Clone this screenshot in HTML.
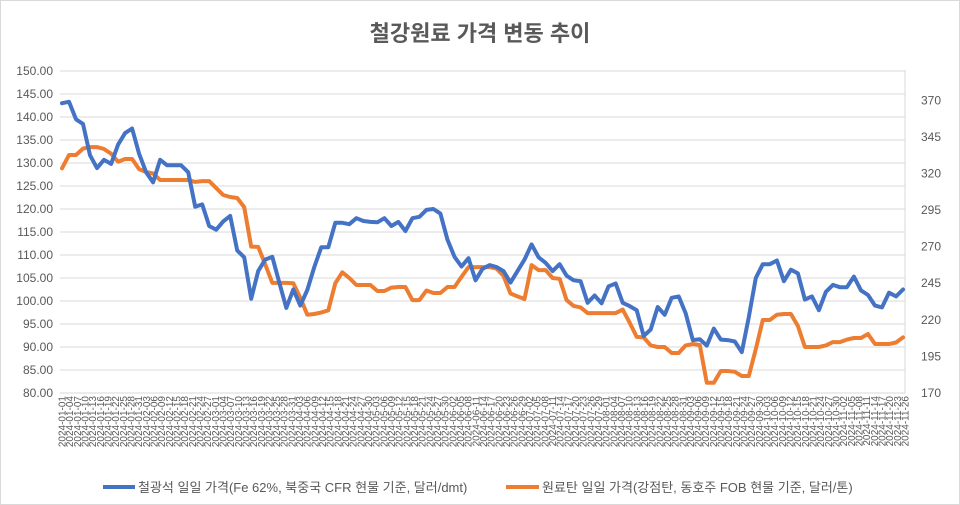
<!DOCTYPE html>
<html><head><meta charset="utf-8"><style>
html,body{margin:0;padding:0;background:#fff;}
svg{display:block;font-family:"Liberation Sans","Noto Sans CJK KR",sans-serif;}
</style></head><body>
<svg id="chart" width="960" height="505" viewBox="0 0 960 505">
<rect x="0.5" y="0.5" width="959" height="504" fill="#fff" stroke="#d9d9d9"/>
<text x="480" y="41" text-anchor="middle" font-size="22" font-weight="bold" fill="#595959">철강원료 가격 변동 추이</text>
<g id="grid"></g>
<g id="yl"></g>
<g id="yr"></g>
<g id="xl"></g>
<g id="series"></g>
<g>
 <g>
  <line x1="103" y1="487" x2="135" y2="487" stroke="#4472c4" stroke-width="4"/>
  <text x="138" y="492" font-size="13" fill="#595959">철광석 일일 가격(Fe 62%, 북중국 CFR 현물 기준, 달러/dmt)</text>
 </g>
 <g>
  <line x1="506" y1="487" x2="539" y2="487" stroke="#ed7d31" stroke-width="4"/>
  <text x="542" y="492" font-size="13" fill="#595959">원료탄 일일 가격(강점탄, 동호주 FOB 현물 기준, 달러/톤)</text>
 </g>
</g>
</svg>
<script>
const leftTicks=[80,85,90,95,100,105,110,115,120,125,130,135,140,145,150];
const rightTicks=[170,195,220,245,270,295,320,345,370];
const ironOre=[143,143.3,139.5,138.5,131.7,128.9,130.7,129.8,134,136.5,137.5,132,128,125.8,130.7,129.5,129.5,129.5,128,120.5,121,116.3,115.5,117.3,118.5,111,109.5,100.5,106.5,109,109.6,104,98.5,102.5,99,102.4,107.4,111.7,111.7,117,117,116.7,118,117.4,117.2,117.1,118,116.3,117.2,115.2,118,118.3,119.8,120,119,113.3,109.6,107.5,109.3,104.5,107,107.8,107.4,106.5,104,106.5,109,112.3,109.5,108.3,106.5,108,105.5,104.5,104.3,99.6,101.2,99.5,103.2,103.8,99.6,98.9,98,92.4,93.8,98.7,97,100.7,101,97.3,91.5,91.7,90.3,94,91.6,91.5,91.2,88.9,96.5,105,108,108,108.8,104.3,106.8,106,100.3,101,98,102,103.5,103,103,105.3,102.3,101.3,99,98.6,101.8,101,102.5];
const cokingCoal=[323.5,332.6,332.6,337,338,338,336.7,333.5,328,329.9,329.9,323,321,320,315.5,315.5,315.5,315.5,315.5,314.2,314.8,314.8,310,305.3,303.9,303.2,297,270,269.8,258,245.2,245.2,245.2,245,235,223.5,224,225,226.5,245,252.5,248.6,243.8,243.8,243.8,239.7,239.7,242,242.4,242.4,233.5,233.5,240,238.3,238.3,242.4,242.4,249.3,256,256,256,256,255,250,238,236,234.2,257.4,254,254,248.6,248,233.5,229.5,228.5,224.6,224.6,224.6,224.6,224.6,227,218,208.3,208,202.5,201.4,201.4,197.3,197.3,202.5,203.5,202.8,177,177,185,185,184.5,181.6,181.6,200,219.9,219.9,223.5,224,224,215.8,201.4,201.4,201.4,202.5,204.8,204.8,206.5,207.6,207.6,210.3,203.5,203.5,203.5,204.5,208];
const startDate='2024-01-01';
const totalDays=330;
const labelStepDays=3;

const NS='http://www.w3.org/2000/svg';
const X0=62,X1=905,YT=71,YB=393;
const yL=v=>YB-(v-80)/(150-80)*(YB-YT);
const yR=v=>YB-(v-170)/(390-170)*(YB-YT);
const xI=(i,n)=>X0+i*(X1-2-X0)/(n-1);
const xD=d=>X0+d*(X1-X0)/totalDays;
function mk(tag,attrs,parent){const e=document.createElementNS(NS,tag);for(const k in attrs)e.setAttribute(k,attrs[k]);parent.appendChild(e);return e;}
const grid=document.getElementById('grid'),yl=document.getElementById('yl'),yr=document.getElementById('yr'),xl=document.getElementById('xl'),ser=document.getElementById('series');
leftTicks.forEach(v=>{
 const l=mk('line',{x1:60,x2:X1,y1:yL(v),y2:yL(v),stroke:'#d9d9d9','stroke-width':1},grid);
 
 
 const t=mk('text',{x:53,y:yL(v)+4,'text-anchor':'end','font-size':12,fill:'#595959'},yl);
 t.textContent=v.toFixed(2);
 
 
});
const ax=mk('line',{x1:X1,x2:X1,y1:YT-1,y2:YB,stroke:'#d9d9d9','stroke-width':1},yr);


rightTicks.forEach(v=>{
 const t=mk('text',{x:921,y:yR(v)+4,'font-size':12,fill:'#595959'},yr);
 t.textContent=v;
 
 
});
const sd=new Date(startDate+'T00:00:00Z');
for(let d=0;d<=totalDays;d+=labelStepDays){
 const dt=new Date(sd.getTime()+d*86400000);
 const s=dt.toISOString().slice(0,10);
 const x=xD(d)+3.5;
 const t=mk('text',{x:x,y:396,'text-anchor':'end','font-size':10,fill:'#595959',transform:`rotate(-90 ${x} 396)`},xl);
 t.textContent=s;
 
 
}
function line(data,yf,color,name){
 const pts=data.map((v,i)=>xI(i,data.length).toFixed(1)+','+yf(v).toFixed(1)).join(' ');
 const p=mk('polyline',{points:pts,fill:'none',stroke:color,'stroke-width':4,'stroke-linejoin':'round','stroke-linecap':'round'},ser);
 
 
}
line(cokingCoal,yR,'#ed7d31','coking-coal-line');
line(ironOre,yL,'#4472c4','iron-ore-line');
</script>
</body></html>
